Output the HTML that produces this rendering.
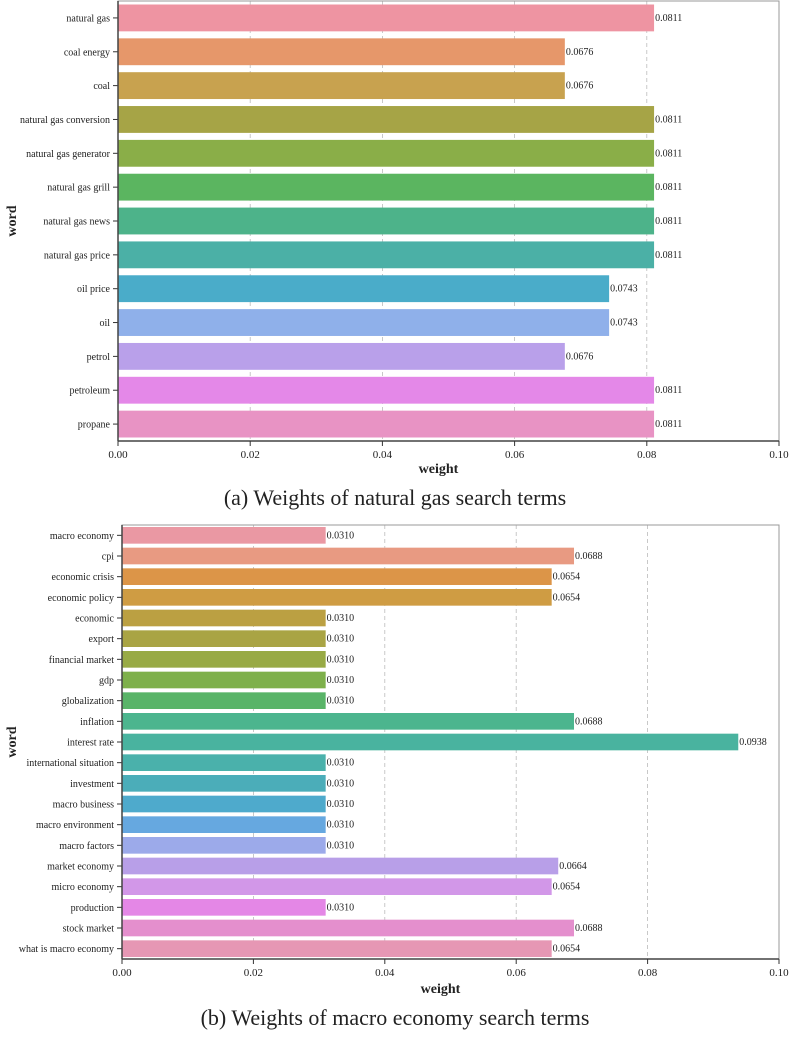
<!DOCTYPE html>
<html><head><meta charset="utf-8"><style>
body{margin:0;background:#fff;}
svg text{font-family:"Liberation Serif",serif;fill:#222;}
</style></head><body>
<svg id="s" width="790" height="1033" xmlns="http://www.w3.org/2000/svg"></svg>
<script>
const catsA=["natural gas","coal energy","coal","natural gas conversion","natural gas generator","natural gas grill","natural gas news","natural gas price","oil price","oil","petrol","petroleum","propane"];
const valsA=[0.0811,0.0676,0.0676,0.0811,0.0811,0.0811,0.0811,0.0811,0.0743,0.0743,0.0676,0.0811,0.0811];
const colsA=["#ee94a2","#e6976a","#c8a24f","#a6a446","#8aae48","#5bb560","#4db38a","#4bb0a6","#4aacc9","#8fb0ea","#b9a0ea","#e488e8","#e893c4"];
const catsB=["macro economy","cpi","economic crisis","economic policy","economic","export","financial market","gdp","globalization","inflation","interest rate","international situation","investment","macro business","macro environment","macro factors","market economy","micro economy","production","stock market","what is macro economy"];
const valsB=[0.0310,0.0688,0.0654,0.0654,0.0310,0.0310,0.0310,0.0310,0.0310,0.0688,0.0938,0.0310,0.0310,0.0310,0.0310,0.0310,0.0664,0.0654,0.0310,0.0688,0.0654];
const colsB=["#ea98a3","#e89a82","#dc9548","#cf9c43","#bba042","#a9a444","#98aa45","#7eb04b","#59b468","#4cb58e","#49b39f","#4ab1ab","#4badb9","#4eaacc","#66a8e0","#9caaea","#b89fe8","#d297e8","#e487e6","#e48fcd","#e697b4"];
const ticks=[0,0.02,0.04,0.06,0.08,0.10];
const S=document.getElementById('s');const NS="http://www.w3.org/2000/svg";
function el(t,a,txt){const e=document.createElementNS(NS,t);for(const k in a)e.setAttribute(k,a[k]);if(txt!=null)e.textContent=txt;S.appendChild(e);return e;}
function chart(cats,vals,cols,L,R,T,B,bandPad,tag,fs,xlabY,capY,cap){
  const x=v=>L+(R-L)*v/0.1;
  const bh=(B-T)/cats.length;
  ticks.slice(1,5).forEach(t=>{const g=el('line',{x1:x(t),x2:x(t),y1:T,y2:B,stroke:'#bbb','stroke-dasharray':'4,3','stroke-width':0.8});
  });
  cats.forEach((c,i)=>{const y=T+i*bh;
    const r=el('rect',{x:L,y:y+bandPad,width:x(vals[i])-L,height:bh-2*bandPad,fill:cols[i]});
    
    const v=el('text',{x:x(vals[i])+1,y:y+bh/2+3,'font-size':10},vals[i].toFixed(4));
    
    const lb=el('text',{x:L-8,y:y+bh/2+3.5,'font-size':fs,'text-anchor':'end'},c);
    
    el('line',{x1:L-5,x2:L,y1:y+bh/2,y2:y+bh/2,stroke:'#333'});
  });
  const f=el('rect',{x:L,y:T,width:R-L,height:B-T,fill:'none',stroke:'#999','stroke-width':1});
  
  el('line',{x1:L,x2:L,y1:T,y2:B,stroke:'#444','stroke-width':1.5});
  el('line',{x1:L,x2:R,y1:B,y2:B,stroke:'#444','stroke-width':1.5});
  ticks.forEach(t=>{el('line',{x1:x(t),x2:x(t),y1:B,y2:B+5,stroke:'#333'});
    const tl=el('text',{x:x(t),y:B+17,'font-size':11,'text-anchor':'middle'},t.toFixed(2));
    });
  const xl=el('text',{x:(L+R)/2-10,y:xlabY,'font-size':14,'font-weight':'bold','text-anchor':'middle'},'weight');
  
  const cy=(T+B)/2;
  const yl=el('text',{x:16,y:cy,'font-size':14,'font-weight':'bold','text-anchor':'middle',transform:'rotate(-90 16 '+cy+')'},'word');
  
  const cp=el('text',{x:395,y:capY,'font-size':22,'text-anchor':'middle'},cap);
  
}
chart(catsA,valsA,colsA,118,779,1,441,3.5,'natural-gas',10,473,505,'(a) Weights of natural gas search terms');
chart(catsB,valsB,colsB,122,779,525,959,2,'macro-economy',10,993,1025,'(b) Weights of macro economy search terms');
</script>
</body></html>
